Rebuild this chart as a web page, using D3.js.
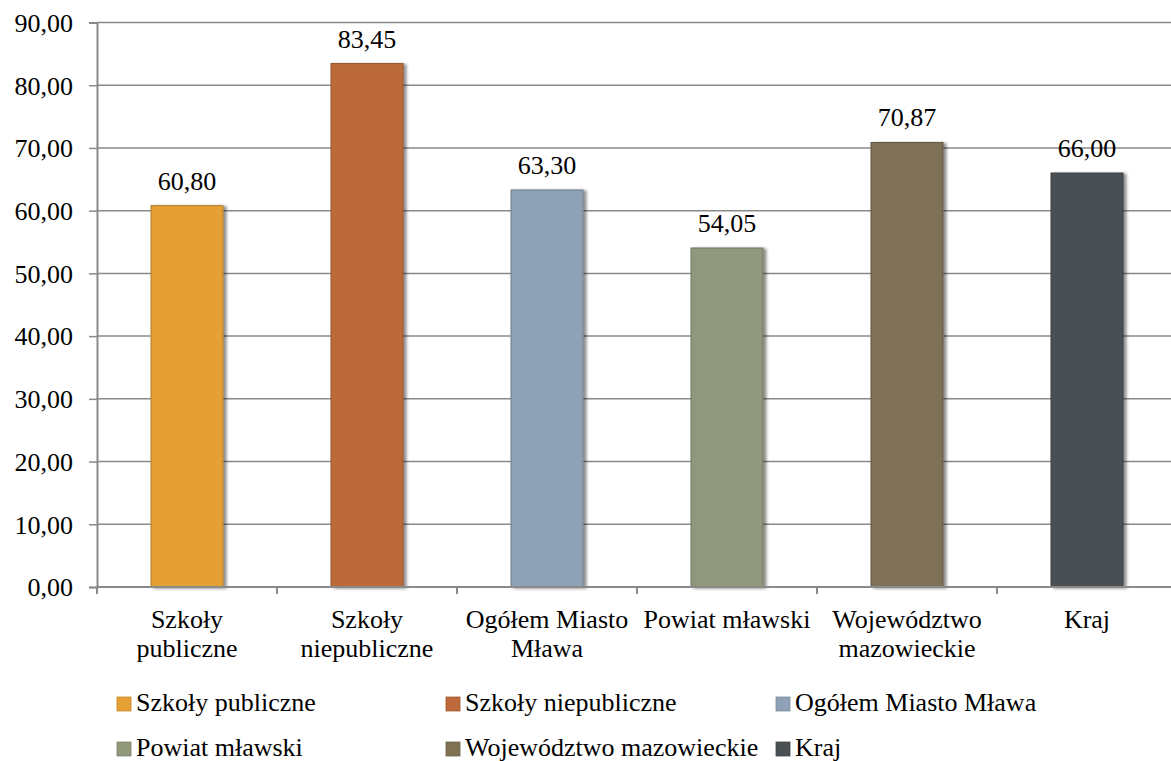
<!DOCTYPE html>
<html>
<head>
<meta charset="utf-8">
<script src="https://cdn.jsdelivr.net/npm/d3@7"></script>
</head>
<body style="margin:0">
<svg id="chart" width="1171" height="761"></svg>
<script>
const categories = ["Szkoły publiczne", "Szkoły niepubliczne", "Ogółem Miasto Mława", "Powiat mławski", "Województwo mazowieckie", "Kraj"];
const categoryLines = [["Szkoły", "publiczne"], ["Szkoły", "niepubliczne"], ["Ogółem Miasto", "Mława"], ["Powiat mławski"], ["Województwo", "mazowieckie"], ["Kraj"]];
const values = [60.80, 83.45, 63.30, 54.05, 70.87, 66.00];
const colors = ["#E4A033", "#BD6A3A", "#8FA1B4", "#8F987B", "#7F7154", "#4A5053"];
const yTicks = [0, 10, 20, 30, 40, 50, 60, 70, 80, 90];

const FONT = "Liberation Serif";
const FS = 26;
const W = 1171;
const m = { left: 97, top: 22.5, bottom: 587 };
const bandStep = 180;
const svg = d3.select("#chart");

const fmt = v => d3.format(".2f")(v).replace(".", ",");

const x = d3.scaleBand().domain(categories).range([m.left, m.left + bandStep * categories.length]).paddingInner(0.6).paddingOuter(0.3);
const y = d3.scaleLinear().domain([0, 90]).range([m.bottom, m.top]);

const defs = svg.append("defs");
const f = defs.append("filter").attr("id", "shadow").attr("x", "-20%").attr("y", "-20%").attr("width", "150%").attr("height", "140%");
f.append("feDropShadow").attr("dx", 3).attr("dy", 1).attr("stdDeviation", 1.6).attr("flood-color", "#000").attr("flood-opacity", 0.45);

// gridlines
svg.append("g").selectAll("line").data(yTicks.filter(d => d > 0)).join("line")
  .attr("x1", m.left).attr("x2", W).attr("y1", d => y(d)).attr("y2", d => y(d))
  .attr("stroke", "#8a8a8a").attr("stroke-width", 1.5);

// y axis
const yAxis = svg.append("g").attr("transform", `translate(${m.left},0)`)
  .call(d3.axisLeft(y).tickValues(yTicks).tickFormat(fmt).tickSize(8).tickPadding(16));
yAxis.attr("font-family", FONT).attr("font-size", FS);
yAxis.select(".domain").attr("stroke", "#8a8a8a").attr("stroke-width", 2);
yAxis.selectAll(".tick line").attr("stroke", "#8a8a8a").attr("stroke-width", 1.5);
yAxis.selectAll(".tick text").attr("font-family", FONT).attr("font-size", FS).attr("fill", "#000").attr("dy", "0.34em");

// bars
svg.append("g").selectAll("rect").data(values).join("rect")
  .attr("x", (d, i) => x(categories[i]))
  .attr("y", d => y(d))
  .attr("width", x.bandwidth())
  .attr("height", d => y(0) - y(d))
  .attr("fill", (d, i) => colors[i])
  .attr("stroke", (d, i) => d3.color(colors[i]).darker(0.7))
  .attr("stroke-width", 1)
  .attr("filter", "url(#shadow)");

// x axis
const xAxisG = svg.append("g");
xAxisG.append("line").attr("x1", m.left).attr("x2", W).attr("y1", y(0)).attr("y2", y(0))
  .attr("stroke", "#8a8a8a").attr("stroke-width", 2);
const boundaries = d3.range(categories.length + 1).map(i => m.left + i * bandStep).filter(v => v <= W);
xAxisG.selectAll("line.t").data(boundaries).join("line").attr("class", "t")
  .attr("x1", d => d).attr("x2", d => d).attr("y1", y(0)).attr("y2", y(0) + 7)
  .attr("stroke", "#8a8a8a").attr("stroke-width", 2);

// data labels
svg.append("g").selectAll("text").data(values).join("text")
  .attr("x", (d, i) => x(categories[i]) + x.bandwidth() / 2)
  .attr("y", d => y(d) - 16)
  .attr("text-anchor", "middle").attr("font-family", FONT).attr("font-size", FS).attr("fill", "#000")
  .text(d => fmt(d));

// category labels
const catG = svg.append("g");
categories.forEach((c, i) => {
  const t = catG.append("text").attr("text-anchor", "middle").attr("font-family", FONT).attr("font-size", FS).attr("fill", "#000");
  categoryLines[i].forEach((l, j) => t.append("tspan").attr("x", x(c) + x.bandwidth() / 2).attr("y", 628 + j * 29).text(l));
});

// legend
const legX = [117, 446, 776];
const legY = [697, 742];
const leg = svg.append("g");
categories.forEach((c, i) => {
  const col = i % 3, row = Math.floor(i / 3);
  const g = leg.append("g").attr("transform", `translate(${legX[col]},${legY[row]})`);
  g.append("rect").attr("width", 14).attr("height", 14).attr("fill", colors[i])
    .attr("stroke", d3.color(colors[i]).darker(0.4)).attr("stroke-width", 0.8);
  g.append("text").attr("x", 19).attr("y", 14).attr("font-family", FONT).attr("font-size", FS).attr("fill", "#000").text(c);
});
</script>
</body>
</html>
